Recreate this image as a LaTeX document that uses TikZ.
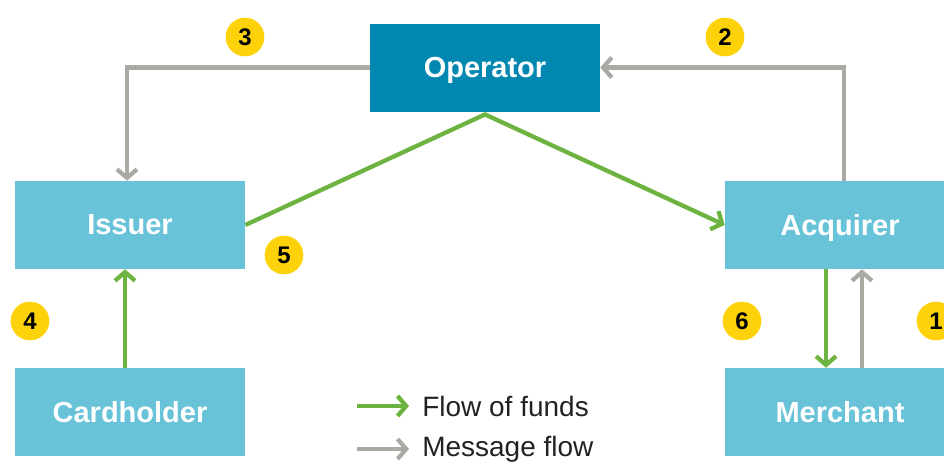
\documentclass[tikz,border=0pt]{standalone}
\usepackage{fontspec}
\setmainfont{Liberation Sans}
\usetikzlibrary{arrows.meta}
\definecolor{opblue}{HTML}{0287B1}
\definecolor{ltblue}{HTML}{68C3D9}
\definecolor{fundgreen}{HTML}{6DB33F}
\definecolor{msggray}{HTML}{ABA9A4}
\definecolor{numyellow}{HTML}{FDD20A}
\definecolor{legtext}{HTML}{222222}
\begin{document}
\begin{tikzpicture}[x=0.75pt,y=-0.75pt,
  boxbase/.style={minimum width=172.5pt,minimum height=66pt,inner sep=0pt,text=white,
    text depth=0pt,font=\fontsize{21.75}{26}\selectfont\bfseries},
  lbox/.style={boxbase,fill=ltblue},
  obox/.style={boxbase,fill=opblue},
  num/.style={circle,fill=numyellow,minimum size=29pt,inner sep=0pt,
    font=\fontsize{18}{20}\selectfont\bfseries,text=black},
  tipstyle/.style={-{Straight Barb[length=6.5pt,width=15pt,line width=3.2pt]}},
  fund/.style={draw=fundgreen,line width=3.2pt,tipstyle},
  msg/.style={draw=msggray,line width=3.2pt,tipstyle},
  legtxt/.style={anchor=west,inner sep=0pt,text=legtext,font=\fontsize{21}{24}\selectfont}
]
\useasboundingbox (0,0) rectangle (944,465);
\clip (0,0) rectangle (944,465);

\node[obox] (operator) at (485,67.5) {Operator};
\node[lbox] (issuer) at (130,225) {Issuer};
\node[lbox] (acquirer) at (840,225) {Acquirer};
\node[lbox] (cardholder) at (130,412) {Cardholder};
\node[lbox] (merchant) at (840,412) {Merchant};

\node[num] (n3) at (245,37) {3};
\node[num] (n2) at (725,37) {2};
\node[num] (n5) at (284,255) {5};
\node[num] (n4) at (30,321) {4};
\node[num] (n6) at (742,321) {6};
\node[num] (n1) at (936,321) {1};

% message flows
\draw[msg] (operator.west) -| ([xshift=-2.25pt]issuer.north);
\draw[msg] ([xshift=3pt]acquirer.north) |- (operator.east);
\draw[msg] ([xshift=16.5pt]merchant.north) -- ([xshift=16.5pt]acquirer.south);

% fund flows
\draw[fund] (issuer.east) -- ([yshift=-2pt]operator.south) -- (acquirer.west);
\draw[fund] ([xshift=-3.75pt]cardholder.north) -- ([xshift=-3.75pt]issuer.south);
\draw[fund] ([xshift=-10.5pt]acquirer.south) -- ([xshift=-10.5pt]merchant.north);

% legend
\coordinate (l1s) at (357,406);
\coordinate (l1e) at (409,406);
\coordinate (l2s) at (357,449);
\coordinate (l2e) at (409,449);
\draw[fund] (l1s) -- (l1e);
\draw[msg] (l2s) -- (l2e);
\node[legtxt] (t1) at (422,406) {Flow of funds};
\node[legtxt] (t2) at (422,449) {Message flow};
\end{tikzpicture}
\end{document}
